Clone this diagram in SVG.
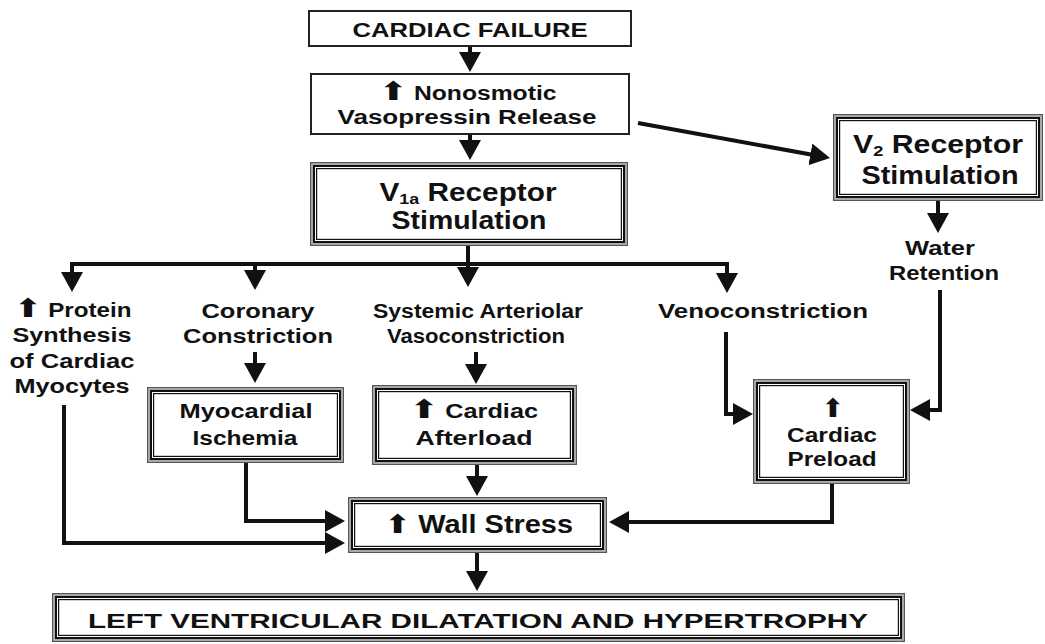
<svg xmlns="http://www.w3.org/2000/svg" width="1045" height="644" viewBox="0 0 1045 644">
<style>
.bg{fill:#fff}
.s1{fill:#fff;stroke:#222;stroke-width:2}
.o1{fill:#fff;stroke:#555;stroke-width:1.5}
.o2{fill:none;stroke:#a8a8a8;stroke-width:1.5}
.o3{fill:none;stroke:#111;stroke-width:2}
.o4{fill:none;stroke:#111;stroke-width:1.2}
.t{font-family:"Liberation Sans",Arial,sans-serif;font-weight:bold;fill:#111;text-anchor:middle;font-size:19.5px}
.big{font-size:25px}
.ar{font-family:"DejaVu Sans",sans-serif;font-weight:bold;font-size:26px}
.c{fill:none;stroke:#111;stroke-width:4;stroke-linejoin:miter}
.ca{marker-end:url(#ah)}
</style>
<defs>
<marker id="ah" viewBox="0 0 20 22" refX="16" refY="11" markerWidth="20" markerHeight="22" markerUnits="userSpaceOnUse" orient="auto">
<path d="M0,0 L20,11 L0,22 Z" fill="#111"/>
</marker>
</defs>
<rect class="bg" x="0" y="0" width="1045" height="644"/>

<g id="connectors">
<path class="c ca" d="M470,47 V68"/>
<path class="c ca" d="M470,135 V156"/>
<path class="c ca" d="M638,123 L826.1,157.3"/>
<path class="c" d="M468,246 V264"/>
<path class="c" d="M70,264 H729"/>
<path class="c ca" d="M72,262 V288"/>
<path class="c ca" d="M255,264 V286"/>
<path class="c ca" d="M468,264 V283"/>
<path class="c ca" d="M727,262 V289"/>
<path class="c ca" d="M938,201 V229"/>
<path class="c ca" d="M940,290 V410 H914"/>
<path class="c ca" d="M726,332 V414 H749"/>
<path class="c ca" d="M255,352 V379"/>
<path class="c ca" d="M476,352 V380"/>
<path class="c ca" d="M477,465 V492"/>
<path class="c ca" d="M477,553 V587"/>
<path class="c ca" d="M246,463 V521 H341"/>
<path class="c ca" d="M64,405 V543 H341"/>
<path class="c ca" d="M832,484 V522 H613"/>
</g>

<g id="cardiac-failure">
<rect class="s1" x="309" y="11" width="322" height="35"/>
<text class="t" x="470" y="36.5" textLength="235" lengthAdjust="spacingAndGlyphs">CARDIAC FAILURE</text>
</g>

<g id="vasopressin-release">
<rect class="s1" x="311" y="74" width="318" height="60"/>
<text class="t" x="468" y="100" textLength="177" lengthAdjust="spacingAndGlyphs"><tspan class="ar">⬆</tspan> Nonosmotic</text>
<text class="t" x="467" y="124" textLength="259" lengthAdjust="spacingAndGlyphs">Vasopressin Release</text>
</g>

<g id="v1a-receptor">
<rect class="o1" x="310.75" y="162.75" width="316.5" height="82.5"/>
<rect class="o2" x="312.25" y="164.25" width="313.5" height="79.5"/>
<rect class="o3" x="314" y="166" width="310" height="76"/>
<rect class="o4" x="316.6" y="168.6" width="304.8" height="70.8"/>
<text class="t big" x="468" y="201" textLength="177" lengthAdjust="spacingAndGlyphs">V<tspan font-size="15" dy="3">1a</tspan><tspan dy="-3"> Receptor</tspan></text>
<text class="t big" x="469" y="229" textLength="155" lengthAdjust="spacingAndGlyphs">Stimulation</text>
</g>

<g id="v2-receptor">
<rect class="o1" x="833.75" y="114.75" width="208.5" height="85.5"/>
<rect class="o2" x="835.25" y="116.25" width="205.5" height="82.5"/>
<rect class="o3" x="837" y="118" width="202" height="79"/>
<rect class="o4" x="839.6" y="120.6" width="196.8" height="73.8"/>
<text class="t big" x="938" y="153" textLength="170" lengthAdjust="spacingAndGlyphs">V<tspan font-size="15" dy="3">2</tspan><tspan dy="-3"> Receptor</tspan></text>
<text class="t big" x="940" y="184" textLength="157" lengthAdjust="spacingAndGlyphs">Stimulation</text>
</g>

<g id="water-retention">
<text class="t" x="940" y="255" textLength="70" lengthAdjust="spacingAndGlyphs">Water</text>
<text class="t" x="944" y="280" textLength="110" lengthAdjust="spacingAndGlyphs">Retention</text>
</g>

<g id="protein-synthesis">
<text class="t" x="73" y="317" textLength="117" lengthAdjust="spacingAndGlyphs"><tspan class="ar">⬆</tspan> Protein</text>
<text class="t" x="72" y="342" textLength="119" lengthAdjust="spacingAndGlyphs">Synthesis</text>
<text class="t" x="72" y="368" textLength="125" lengthAdjust="spacingAndGlyphs">of Cardiac</text>
<text class="t" x="72" y="393" textLength="115" lengthAdjust="spacingAndGlyphs">Myocytes</text>
</g>

<g id="coronary-constriction">
<text class="t" x="258" y="318" textLength="113" lengthAdjust="spacingAndGlyphs">Coronary</text>
<text class="t" x="258" y="343" textLength="150" lengthAdjust="spacingAndGlyphs">Constriction</text>
</g>

<g id="systemic-vasoconstriction">
<text class="t" x="478" y="318" textLength="210" lengthAdjust="spacingAndGlyphs">Systemic Arteriolar</text>
<text class="t" x="476" y="343" textLength="178" lengthAdjust="spacingAndGlyphs">Vasoconstriction</text>
</g>

<g id="venoconstriction">
<text class="t" x="763" y="318" textLength="210" lengthAdjust="spacingAndGlyphs">Venoconstriction</text>
</g>

<g id="myocardial-ischemia">
<rect class="o1" x="147.75" y="387.75" width="195.5" height="74.5"/>
<rect class="o2" x="149.25" y="389.25" width="192.5" height="71.5"/>
<rect class="o3" x="151" y="391" width="189" height="68"/>
<rect class="o4" x="153.6" y="393.6" width="183.8" height="62.8"/>
<text class="t" x="246" y="418" textLength="133" lengthAdjust="spacingAndGlyphs">Myocardial</text>
<text class="t" x="245" y="445" textLength="105" lengthAdjust="spacingAndGlyphs">Ischemia</text>
</g>

<g id="cardiac-afterload">
<rect class="o1" x="372.75" y="385.75" width="203.5" height="78.5"/>
<rect class="o2" x="374.25" y="387.25" width="200.5" height="75.5"/>
<rect class="o3" x="376" y="389" width="197" height="72"/>
<rect class="o4" x="378.6" y="391.6" width="191.8" height="66.8"/>
<text class="t" x="474" y="418" textLength="128" lengthAdjust="spacingAndGlyphs"><tspan class="ar">⬆</tspan> Cardiac</text>
<text class="t" x="474" y="445" textLength="117" lengthAdjust="spacingAndGlyphs">Afterload</text>
</g>

<g id="cardiac-preload">
<rect class="o1" x="753.75" y="379.75" width="155.5" height="103.5"/>
<rect class="o2" x="755.25" y="381.25" width="152.5" height="100.5"/>
<rect class="o3" x="757" y="383" width="149" height="97"/>
<rect class="o4" x="759.6" y="385.6" width="143.8" height="91.8"/>
<text class="t ar" x="833" y="417">⬆</text>
<text class="t" x="832" y="442" textLength="90" lengthAdjust="spacingAndGlyphs">Cardiac</text>
<text class="t" x="832" y="466" textLength="89" lengthAdjust="spacingAndGlyphs">Preload</text>
</g>

<g id="wall-stress">
<rect class="o1" x="348.75" y="497.75" width="257.5" height="54.5"/>
<rect class="o2" x="350.25" y="499.25" width="254.5" height="51.5"/>
<rect class="o3" x="352" y="501" width="251" height="48"/>
<rect class="o4" x="354.6" y="503.6" width="245.8" height="42.8"/>
<text class="t big" x="479" y="533" textLength="188" lengthAdjust="spacingAndGlyphs"><tspan class="ar">⬆</tspan> Wall Stress</text>
</g>

<g id="lv-dilatation">
<rect class="o1" x="52.75" y="593.75" width="851.5" height="47.5"/>
<rect class="o2" x="54.25" y="595.25" width="848.5" height="44.5"/>
<rect class="o3" x="56" y="597" width="845" height="41"/>
<rect class="o4" x="58.6" y="599.6" width="839.8" height="35.8"/>
<text class="t" x="478" y="628" font-size="25" textLength="780" lengthAdjust="spacingAndGlyphs">LEFT VENTRICULAR DILATATION AND HYPERTROPHY</text>
</g>
</svg>
